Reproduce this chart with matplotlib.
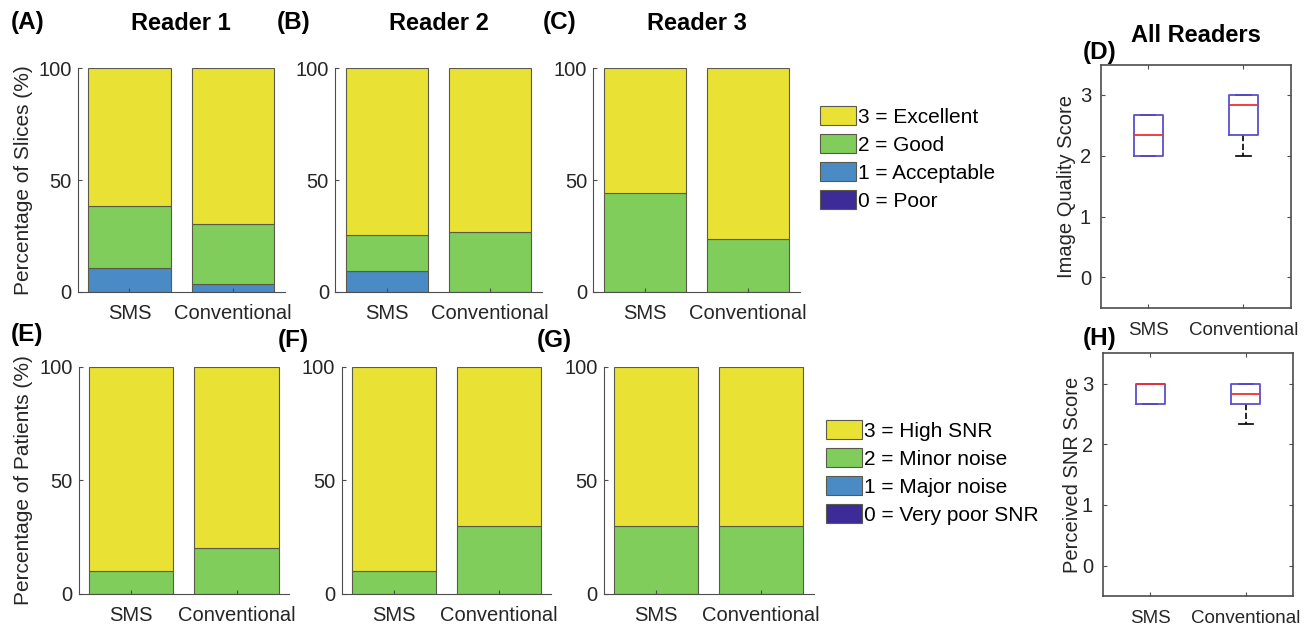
import matplotlib
matplotlib.use("Agg")
import matplotlib.pyplot as plt
from matplotlib.patches import Patch

plt.rcParams['font.family'] = ['Liberation Sans', 'DejaVu Sans']

W, H = 1306, 627

groups = ["SMS", "Conventional"]
readers = ["Reader 1", "Reader 2", "Reader 3"]

# percent of slices per score (0, 1, 2, 3) -> [SMS, Conventional]
slices_poor = [[0, 0], [0, 0], [0, 0]]
slices_acceptable = [[10.5, 3.3], [9.3, 0], [0, 0]]
slices_good = [[28.0, 26.9], [15.9, 26.7], [44.0, 23.4]]
slices_excellent = [[61.5, 69.8], [74.8, 73.3], [56.0, 76.6]]

# percent of patients per SNR score
snr_poor = [[0, 0], [0, 0], [0, 0]]
snr_major = [[0, 0], [0, 0], [0, 0]]
snr_minor = [[10, 20], [10, 30], [30, 30]]
snr_high = [[90, 80], [90, 70], [70, 70]]

quality_labels = ["3 = Excellent", "2 = Good", "1 = Acceptable", "0 = Poor"]
snr_labels = ["3 = High SNR", "2 = Minor noise", "1 = Major noise", "0 = Very poor SNR"]

# box stats, all readers (median, q1, q3, whisker low, whisker high)
quality_box = {"SMS": [2.333, 2.0, 2.667, 2.0, 2.667],
               "Conventional": [2.833, 2.333, 3.0, 2.0, 3.0]}
snr_box = {"SMS": [3.0, 2.667, 3.0, 2.667, 3.0],
           "Conventional": [2.833, 2.667, 3.0, 2.333, 3.0]}

colors = ["#3d2c98", "#4a8bc6", "#80cd5b", "#e9e234"]  # poor -> excellent
text_col = "#262626"
spine_col = "#4d4d4d"


def px_axes(fig, left, right, top, bottom):
    return fig.add_axes([left / W, 1 - bottom / H, (right - left) / W, (bottom - top) / H])


def stacked(ax, layers, ylabel=None):
    x = [1, 2]
    bottom = [0, 0]
    for vals, c in zip(layers, colors):
        ax.bar(x, vals, 0.8, bottom=bottom, color=c, edgecolor="#5a5a4a", linewidth=0.8)
        bottom = [b + v for b, v in zip(bottom, vals)]
    ax.set_xlim(0.5, 2.5)
    ax.set_ylim(0, 100)
    ax.set_xticks(x)
    ax.set_xticklabels(groups)
    ax.set_yticks([0, 50, 100])
    for s in ["top", "right"]:
        ax.spines[s].set_visible(False)
    for s in ["left", "bottom"]:
        ax.spines[s].set_color(spine_col)
    ax.tick_params(direction="in", length=3, labelsize=14.5, colors=spine_col,
                   labelcolor=text_col)
    ax.tick_params(axis="x", pad=9)
    ax.tick_params(axis="y", pad=4.5)
    if ylabel:
        ax.set_ylabel(ylabel, fontsize=15, color=text_col)
        ax.yaxis.set_label_coords(-0.215, 0.5)


def boxes(ax, stats, ylabel, label_x):
    bx = []
    for g in groups:
        med, q1, q3, lo, hi = stats[g]
        bx.append(dict(med=med, q1=q1, q3=q3, whislo=lo, whishi=hi, fliers=[], label=g))
    ax.bxp(bx, positions=[1, 2], widths=0.3, capwidths=0.15, showfliers=False,
           boxprops=dict(color="#5a4fd0", linewidth=1.3, zorder=4),
           medianprops=dict(color="#f03030", linewidth=1.3, zorder=5),
           whiskerprops=dict(color="black", linestyle="--", linewidth=1.2, zorder=2),
           capprops=dict(color="black", linewidth=1.2, zorder=2))
    ax.set_xlim(0.5, 2.5)
    ax.set_ylim(-0.5, 3.5)
    ax.set_yticks([0, 1, 2, 3])
    for s in ax.spines.values():
        s.set_color(spine_col)
        s.set_linewidth(1.2)
    ax.tick_params(direction="in", length=3, top=True, right=True, labelsize=13.5,
                   colors=spine_col, labelcolor=text_col)
    ax.tick_params(axis="x", pad=10)
    ax.tick_params(axis="y", labelsize=14.5, pad=7)
    ax.set_ylabel(ylabel, fontsize=14.5, color=text_col)
    ax.yaxis.set_label_coords(label_x, 0.5)


fig = plt.figure(figsize=(W / 100, H / 100), dpi=100)

top_pos = [(77.7, 284.7), (335.2, 541.7), (593.4, 799.8)]
bot_pos = [(78.7, 289.1), (341.5, 551.1), (603.7, 813.7)]

for i in range(3):
    ax = px_axes(fig, top_pos[i][0], top_pos[i][1], 68.3, 291.7)
    stacked(ax, [slices_poor[i], slices_acceptable[i], slices_good[i], slices_excellent[i]],
            "Percentage of Slices (%)" if i == 0 else None)
    ax2 = px_axes(fig, bot_pos[i][0], bot_pos[i][1], 366.7, 593.7)
    stacked(ax2, [snr_poor[i], snr_major[i], snr_minor[i], snr_high[i]],
            "Percentage of Patients (%)" if i == 0 else None)
    fig.text((top_pos[i][0] + top_pos[i][1]) / 2 / W, 1 - 23 / H, readers[i],
             fontsize=17, fontweight="bold", ha="center", va="center", color="black")

axd = px_axes(fig, 1100.7, 1291, 64.5, 307.7)
boxes(axd, quality_box, "Image Quality Score", -0.13)
fig.text((1100.7 + 1291) / 2 / W, 1 - 35 / H, "All Readers", fontsize=17,
         fontweight="bold", ha="center", va="center")

axh = px_axes(fig, 1102.7, 1293.3, 353.3, 596)
boxes(axh, snr_box, "Perceived SNR Score", -0.11)

# panel letters
letters = [("(A)", 11, 23), ("(B)", 277, 23), ("(C)", 543, 23), ("(D)", 1083, 52),
           ("(E)", 11, 334), ("(F)", 278, 340), ("(G)", 537, 340), ("(H)", 1083, 338)]
for t, x, y in letters:
    fig.text(x / W, 1 - y / H, t, fontsize=17.5, fontweight="bold", ha="left", va="center")

# legends
fs = 15
for labels, x, y in [(quality_labels, 820, 106), (snr_labels, 825.7, 420)]:
    handles = [Patch(facecolor=c, edgecolor="#5a5a4a", linewidth=0.8) for c in colors[::-1]]
    fig.legend(handles, labels, loc="upper left", bbox_to_anchor=(x / W, 1 - y / H),
               frameon=False, fontsize=fs, handlelength=1.73, handleheight=1.04,
               handletextpad=0.1, labelspacing=0.35, borderpad=0, borderaxespad=0)

fig.savefig("out.png", dpi=100)
